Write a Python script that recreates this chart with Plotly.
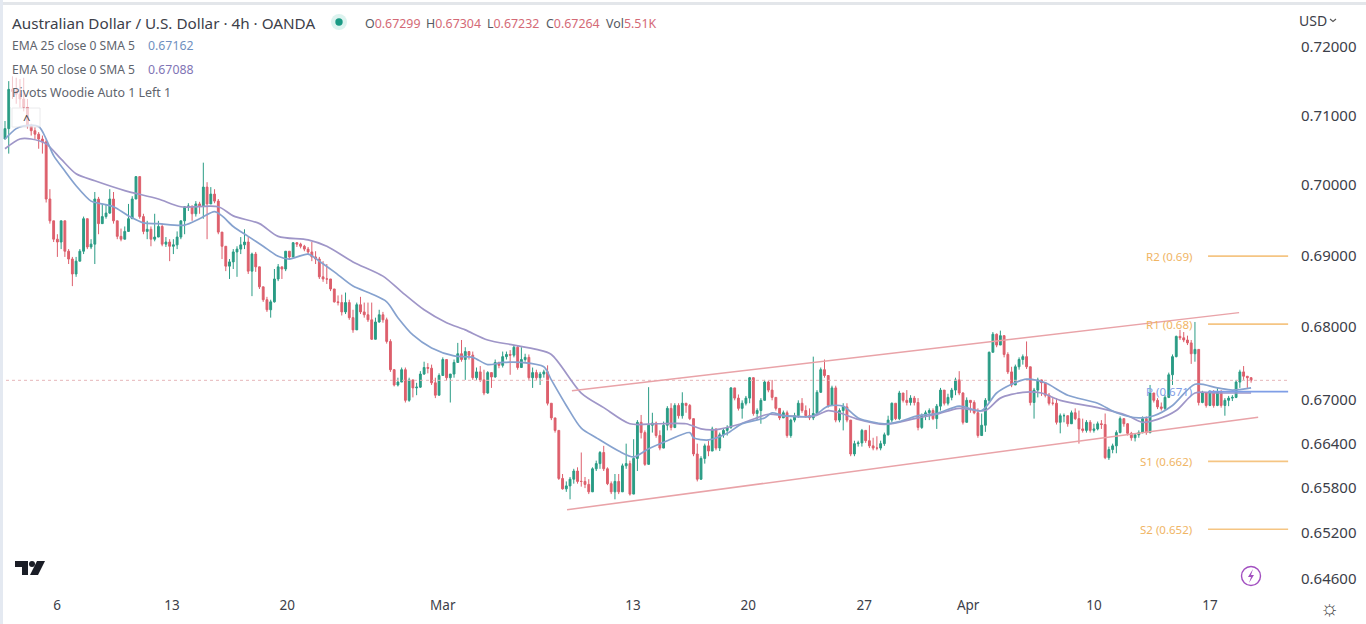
import math
import plotly.graph_objects as go

W, H = 1366, 624
PL, PR, PT, PB = 0, 1290, 6, 595

first_open = 7066
close_pips = [
7081,7138,7135,7131,7124,7112,7085,7078,7073,7066,
7062,6980,6949,6923,6919,6949,6906,6895,6874,6892,
6906,6952,6912,6916,6980,6945,6955,6960,6980,6949,
6927,6923,6934,6952,6980,7012,6955,6934,6937,6923,
6926,6941,6916,6919,6913,6915,6926,6949,6969,6970,
6959,6973,6970,6997,6973,6987,6977,6933,6913,6885,
6891,6905,6909,6915,6919,6878,6902,6884,6856,6838,
6824,6835,6867,6884,6881,6906,6898,6918,6916,6913,
6909,6905,6898,6895,6870,6867,6867,6853,6835,6834,
6821,6834,6813,6796,6831,6821,6817,6810,6783,6807,
6817,6810,6780,6741,6720,6724,6741,6699,6727,6716,
6717,6735,6744,6743,6723,6706,6733,6755,6730,6735,
6751,6763,6755,6766,6761,6730,6738,6727,6709,6737,
6731,6751,6747,6759,6762,6761,6772,6744,6755,6758,
6730,6737,6730,6735,6738,6695,6675,6658,6593,6579,
6583,6592,6603,6589,6589,6585,6575,6606,6613,6628,
6606,6586,6575,6589,6575,6610,6613,6572,6620,6669,
6655,6612,6665,6668,6651,6634,6665,6688,6662,6692,
6678,6695,6692,6674,6626,6592,6620,6637,6630,6660,
6634,6652,6658,6662,6716,6702,6688,6695,6702,6730,
6681,6685,6699,6724,6713,6703,6688,6675,6682,6651,
6672,6678,6695,6685,6678,6675,6681,6710,6741,6733,
6692,6716,6672,6685,6690,6672,6626,6640,6641,6658,
6644,6637,6634,6634,6640,6652,6672,6695,6674,6709,
6699,6696,6702,6696,6662,6678,6682,6685,6674,6691,
6713,6695,6703,6713,6727,6709,6669,6699,6696,6682,
6651,6665,6699,6765,6790,6775,6788,6762,6738,6720,
6745,6755,6759,6745,6696,6713,6727,6723,6706,6695,
6695,6669,6678,6678,6667,6682,6674,6660,6658,6669,
6658,6660,6667,6666,6621,6632,6637,6655,6674,6667,
6654,6648,6652,6655,6674,6655,6709,6699,6690,6688,
6703,6734,6759,6787,6785,6782,6778,6763,6769,6696,
6709,6692,6710,6692,6710,6692,6699,6702,6703,6724,
6738,6732,6730,6726.4]
high_pips = [
7092,7150,7157,7155,7153,7155,7124,7088,7083,7076,
7071,7065,6994,6949,6930,6949,6949,6909,6898,6898,
6909,6955,6945,6923,6990,6983,6973,6973,6994,6990,
6949,6938,6941,6973,6984,7012,7012,6959,6949,6941,
6959,6949,6945,6926,6923,6923,6934,6949,6970,6974,
6970,6977,6976,7032,7004,6997,6994,6980,6933,6913,
6895,6909,6913,6926,6937,6926,6904,6905,6881,6856,
6842,6838,6881,6888,6884,6906,6906,6919,6919,6918,
6915,6912,6919,6906,6898,6892,6888,6867,6853,6844,
6845,6848,6838,6824,6834,6842,6834,6834,6834,6813,
6824,6821,6813,6783,6742,6730,6744,6744,6730,6721,
6723,6739,6752,6750,6748,6730,6736,6758,6755,6735,
6755,6778,6782,6772,6766,6766,6744,6746,6741,6739,
6735,6755,6752,6766,6766,6768,6775,6775,6772,6763,
6762,6744,6741,6738,6741,6747,6695,6675,6658,6599,
6589,6595,6606,6608,6628,6595,6592,6608,6617,6630,
6637,6608,6589,6599,6599,6613,6640,6617,6646,6672,
6679,6658,6717,6682,6670,6658,6670,6691,6695,6695,
6695,6710,6695,6694,6674,6640,6623,6640,6644,6663,
6660,6655,6660,6665,6717,6716,6707,6699,6705,6731,
6724,6688,6702,6727,6726,6727,6703,6688,6685,6685,
6674,6682,6699,6702,6692,6688,6759,6713,6744,6755,
6733,6719,6719,6688,6695,6695,6672,6644,6644,6660,
6655,6665,6648,6650,6644,6655,6678,6696,6695,6712,
6709,6713,6706,6705,6702,6681,6685,6688,6688,6694,
6716,6713,6708,6716,6730,6739,6710,6703,6699,6699,
6688,6681,6702,6766,6793,6791,6795,6787,6765,6745,
6748,6758,6762,6780,6745,6716,6730,6726,6724,6709,
6702,6702,6681,6681,6678,6685,6688,6685,6674,6672,
6672,6667,6670,6672,6681,6636,6640,6658,6677,6674,
6668,6656,6654,6658,6677,6677,6720,6709,6702,6696,
6706,6737,6762,6788,6796,6793,6788,6782,6807,6766,
6712,6710,6713,6713,6716,6713,6702,6705,6706,6727,
6741,6746,6732,6730.4]
low_pips = [
7069,7045,7124,7117,7112,7106,7081,7071,7066,7052,
7045,6975,6945,6919,6898,6909,6898,6888,6857,6870,
6892,6902,6909,6909,6888,6930,6949,6952,6959,6945,
6923,6920,6923,6937,6955,6980,6952,6930,6923,6913,
6920,6929,6913,6912,6892,6902,6909,6923,6930,6963,
6949,6955,6959,6952,6923,6973,6974,6930,6895,6878,
6867,6881,6870,6902,6909,6874,6843,6877,6853,6835,
6821,6813,6834,6864,6867,6878,6895,6897,6912,6910,
6906,6901,6892,6888,6867,6863,6860,6850,6834,6830,
6816,6818,6810,6792,6798,6818,6813,6807,6782,6783,
6806,6806,6777,6738,6718,6718,6724,6696,6697,6703,
6706,6716,6734,6736,6720,6702,6720,6733,6726,6696,
6730,6751,6752,6727,6755,6727,6727,6724,6706,6708,
6716,6730,6743,6744,6755,6734,6758,6741,6744,6752,
6727,6716,6727,6720,6730,6692,6672,6655,6591,6578,
6575,6565,6586,6586,6582,6580,6572,6577,6603,6606,
6603,6584,6572,6565,6572,6578,6606,6570,6589,6603,
6647,6610,6637,6655,6648,6631,6644,6658,6658,6661,
6674,6674,6682,6672,6623,6589,6591,6613,6623,6630,
6631,6630,6648,6651,6660,6699,6685,6674,6692,6695,
6678,6672,6667,6703,6710,6699,6685,6672,6675,6648,
6648,6669,6675,6682,6675,6672,6672,6680,6709,6730,
6689,6691,6669,6669,6658,6669,6623,6623,6636,6636,
6641,6634,6631,6631,6631,6637,6651,6669,6672,6672,
6696,6692,6692,6692,6658,6660,6672,6672,6672,6660,
6685,6692,6692,6699,6706,6706,6666,6682,6682,6680,
6648,6662,6656,6696,6765,6772,6775,6758,6735,6717,
6720,6741,6748,6742,6692,6674,6703,6705,6703,6692,
6692,6666,6654,6669,6663,6672,6672,6640,6655,6655,
6655,6655,6658,6660,6619,6618,6627,6627,6654,6663,
6651,6644,6643,6648,6654,6652,6654,6696,6687,6685,
6685,6702,6720,6758,6782,6779,6775,6749,6752,6692,
6695,6689,6691,6689,6691,6689,6678,6691,6698,6702,
6716,6727,6716,6723.2]

ema25_idx = [0,3,5,9,11,13,16,19,23,25,29,33,37,41,48,52,56,58,61,65,69,73,76,81,84,88,93,98,102,105,109,114,120,125,129,133,138,144,146,150,154,158,164,168,172,177,183,184,188,193,197,203,205,208,216,220,224,228,235,239,244,249,255,261,265,269,273,278,284,292,297,303,307,312,318,324,328,333]
ema25_pips = [7066,7081,7085,7084,7066,7042,7020,6999,6977,6974,6969,6956,6946,6945,6943,6952,6962,6956,6941,6927,6913,6899,6895,6902,6892,6877,6857,6846,6835,6813,6789,6771,6760,6758,6748,6751,6751,6745,6727,6692,6661,6648,6630,6622,6633,6644,6655,6648,6645,6654,6667,6675,6682,6678,6678,6691,6691,6675,6667,6670,6678,6681,6691,6685,6709,6721,6728,6723,6706,6695,6682,6675,6678,6692,6721,6716,6713,6716]
ema50_idx = [0,4,7,11,15,19,24,32,41,47,57,61,68,73,81,86,93,101,106,112,118,123,129,136,142,146,154,160,167,174,182,186,190,196,204,208,216,220,223,228,235,244,249,255,262,266,272,277,282,292,300,304,308,313,318,324,333]
ema50_pips = [7052,7066,7066,7059,7037,7016,7006,6992,6980,6969,6969,6956,6945,6927,6922,6913,6891,6871,6849,6824,6806,6796,6782,6775,6769,6762,6709,6689,6667,6667,6667,6660,6659,6666,6680,6678,6677,6685,6682,6673,6666,6675,6680,6688,6685,6702,6710,6709,6699,6689,6678,6669,6673,6685,6709,6709,6709]

x_tick_idx = [13.9, 44.6, 75.4, 117, 167.8, 198.6, 229.6, 257.4, 291, 322]
x_tick_text = ["6", "13", "20", "Mar", "13", "20", "27", "Apr", "10", "17"]
y_tick_vals = [0.72, 0.71, 0.70, 0.69, 0.68, 0.67, 0.664, 0.658, 0.652, 0.646]
y_tick_text = ["0.72000", "0.71000", "0.70000", "0.69000", "0.68000", "0.67000", "0.66400", "0.65800", "0.65200", "0.64600"]

pivot_names = ["R2 (0.69)", "R1 (0.68)", "P (0.671)", "S1 (0.662)", "S2 (0.652)"]
pivot_vals = [0.6899, 0.6804, 0.6711, 0.6616, 0.6525]
pivot_colors = ["#f5c583", "#f5c583", "#7f9ee6", "#f5c583", "#f5c583"]
pivot_start, pivot_end, pivot_label_x = 321.5, 342.9, 317.7

chan_up_x, chan_up_y = [151.5, 329.8], [0.6712, 0.6820]
chan_lo_x, chan_lo_y = [150.2, 334.9], [0.6551, 0.6676]
last_price = 0.67264

closes = [c / 10000 for c in close_pips]
highs = [c / 10000 for c in high_pips]
lows = [c / 10000 for c in low_pips]
opens = [first_open / 10000] + closes[:-1]
idx = list(range(len(closes)))

x_lo, x_hi = -1.336, 343.4
y_top, y_bot = 0.72605, 0.6438

GREEN, RED = "#2a9c85", "#dd5f6c"
BLUE, PURPLE = "#86a2cf", "#9f96c8"
TXT = "#3c4049"

fig = go.Figure()
fig.add_trace(go.Candlestick(
    x=idx, open=opens, high=highs, low=lows, close=closes,
    increasing=dict(line=dict(color=GREEN, width=1), fillcolor=GREEN),
    decreasing=dict(line=dict(color=RED, width=1), fillcolor=RED),
    whiskerwidth=0, hoverinfo="skip", showlegend=False))
fig.add_trace(go.Scatter(x=[x_lo, pivot_end], y=[last_price, last_price], mode="lines",
                         line=dict(color="#e6b6ba", width=1, dash="dot"), hoverinfo="skip", showlegend=False))
for name, xs, ys, col in [("ema50", ema50_idx, ema50_pips, PURPLE), ("ema25", ema25_idx, ema25_pips, BLUE)]:
    fig.add_trace(go.Scatter(x=xs, y=[v / 10000 for v in ys], mode="lines", name=name,
                             line=dict(color=col, width=1.7, shape="spline", smoothing=0.8),
                             hoverinfo="skip", showlegend=False))
for xs, ys in [(chan_up_x, chan_up_y), (chan_lo_x, chan_lo_y)]:
    fig.add_trace(go.Scatter(x=xs, y=ys, mode="lines", line=dict(color="#e9a3a8", width=1.5),
                             hoverinfo="skip", showlegend=False))
for v, col in zip(pivot_vals, pivot_colors):
    fig.add_trace(go.Scatter(x=[pivot_start, pivot_end], y=[v, v], mode="lines",
                             line=dict(color=col, width=1.7), hoverinfo="skip", showlegend=False))


def px(x):
    return (x - PL) / (PR - PL)


def py(y):
    return (PB - y) / (PB - PT)


FONT = "Noto Sans"
anns = []


def text(x, y, s, size=13, color=TXT, anchor="left", shift=-2.5):
    anns.append(dict(x=px(x), y=py(y), xref="paper", yref="paper", text=s, showarrow=False,
                     xanchor=anchor, yanchor="middle", xshift=shift, font=dict(family=FONT, size=size, color=color)))


text(12, 23, "Australian Dollar / U.S. Dollar · 4h · OANDA", 15.25)
text(12, 46, "EMA 25 close 0 SMA 5", 12.1, "#60646d")
text(148, 46, "0.67162", 12.3, "#6f8fc0")
text(12, 69, "EMA 50 close 0 SMA 5", 12.1, "#60646d")
text(148, 69, "0.67088", 12.3, "#7f74b5")
text(12, 93, "Pivots Woodie Auto 1 Left 1", 12.4, "#60646d")
text(26, 119, "^", 13, "#444", anchor="center", shift=0)
RV = "#d46a76"
for x, lab, val in [(365, "O", "0.67299"), (426, "H", "0.67304"), (487, "L", "0.67232"), (546, "C", "0.67264"), (606, "Vol", "5.51K")]:
    text(x, 23, f'{lab}<span style="color:{RV}">{val}</span>', 12.4, "#555a63")
text(1299, 20, "USD", 14, TXT)
text(1329, 607, "☼", 21, "#444", anchor="center", shift=0)
for name, v, col in zip(pivot_names, pivot_vals, pivot_colors):
    anns.append(dict(x=pivot_label_x, y=math.log10(v), xref="x", yref="y", text=name, showarrow=False,
                     xanchor="right", yanchor="middle",
                     font=dict(family=FONT, size=11.5, color="#f0b565" if col != pivot_colors[2] else "#7f9ee6")))

shapes = []


def rect(x0, y0, x1, y1, fill, line=None, op=1, layer="above"):
    shapes.append(dict(type="rect", xref="paper", yref="paper", x0=px(x0), x1=px(x1), y0=py(y0), y1=py(y1),
                       fillcolor=fill, opacity=op, layer=layer, line=dict(color=line or fill, width=1 if line else 0)))


def circle(cx, cy, r, fill, line=None, w=1.4):
    shapes.append(dict(type="circle", xref="paper", yref="paper", x0=px(cx - r), x1=px(cx + r), y0=py(cy - r), y1=py(cy + r),
                       fillcolor=fill, line=dict(color=line or fill, width=w if line else 0), layer="above"))


def poly(pts, fill=None, line=None, w=1.4, closed=True):
    d = "M " + " L ".join(f"{px(a):.5f},{py(b):.5f}" for a, b in pts) + (" Z" if closed else "")
    shapes.append(dict(type="path", xref="paper", yref="paper", path=d, fillcolor=fill or "rgba(0,0,0,0)",
                       line=dict(color=line or "rgba(0,0,0,0)", width=w if line else 0), layer="above"))


rect(0, 0, 1366, 5, "#e3e6ea")
rect(0, 0, 1366, 2, "#ffffff")
rect(0, 0, 3, 624, "#e4e9f1")
rect(10, 75, 40, 107, "#ffffff", op=0.65)
rect(12, 108, 40, 127, "#ffffff", line="#e2e2e6", op=0.7)
circle(339, 22, 8, "#dcf3ef")
circle(339, 22, 3.7, "#1a9a84")
circle(1251, 576, 9.5, "rgba(0,0,0,0)", "#a24fc0")
poly([(1253, 569), (1248, 577), (1251, 577), (1249, 583), (1254, 575), (1251, 575)], fill="#a24fc0")
poly([(15, 561), (28, 561), (28, 575), (22, 575), (22, 567), (15, 567)], fill="#1a1d26")
circle(32, 564, 3, "#1a1d26")
poly([(37, 561), (45, 561), (38, 575), (30, 575)], fill="#1a1d26")
poly([(1330, 19), (1333, 21.5), (1336, 19)], line="#555", w=1.1, closed=False)

fig.update_layout(
    width=W, height=H, autosize=False,
    margin=dict(l=PL, r=W - PR, t=PT, b=H - PB, pad=0),
    paper_bgcolor="#ffffff", plot_bgcolor="#ffffff",
    xaxis=dict(range=[x_lo, x_hi], rangeslider=dict(visible=False), showgrid=False, zeroline=False,
               showline=False, tickmode="array", tickvals=x_tick_idx, ticktext=x_tick_text,
               ticks="", tickfont=dict(family=FONT, size=13.5, color=TXT)),
    yaxis=dict(type="log", range=[math.log10(y_bot), math.log10(y_top)], side="right", showgrid=False,
               zeroline=False, showline=False, tickmode="array", tickvals=y_tick_vals, ticktext=y_tick_text,
               ticks="outside", ticklen=7, tickcolor="rgba(0,0,0,0)",
               tickfont=dict(family=FONT, size=15, color=TXT)),
    annotations=anns, shapes=shapes, hovermode=False, showlegend=False,
)
fig.write_html("out.html", config=dict(displayModeBar=False),
               post_script="document.body.style.margin='0';document.body.style.overflow='hidden';")
